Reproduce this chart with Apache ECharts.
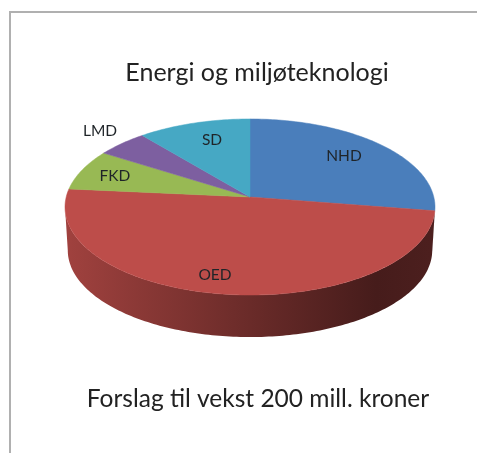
<!DOCTYPE html>
<html>
<head>
<meta charset="utf-8">
<style>html,body{margin:0;padding:0;background:#fff}#c{width:477px;height:453px}</style>
<script src="https://cdn.jsdelivr.net/npm/echarts@6/dist/echarts.min.js"></script>
</head>
<body>
<div id="c"></div>
<script>
// Data (shares of the 200 mill. kroner)
const categories = ['NHD', 'OED', 'FKD', 'LMD', 'SD'];
const values = [55, 98, 15, 10, 22];
const colors = ['#4a7ebb', '#bd4d4a', '#98b954', '#7d5fa0', '#46a8c4'];
const titleText = 'Energi og miljøteknologi';
const footerText = 'Forslag til vekst 200 mill. kroner';

// Presentation
const labelPos = { NHD: [344, 156], OED: [215, 275], FKD: [115, 176], LMD: [100, 131], SD: [212, 140] };
const cx = 250, cy = 197, a = 183.8, b = 86.9, k = 0.1136;
const depth = 43.5, baseScale = 0.985;
const total = values.reduce((s, v) => s + v, 0);

function shade(hex, f) {
  const n = parseInt(hex.slice(1), 16);
  const c = [n >> 16, (n >> 8) & 255, n & 255].map(x => Math.round(x * f));
  return 'rgb(' + c.join(',') + ')';
}
// Perspective projection of a point on the pie's circle; deg runs clockwise from 12 o'clock
function project(deg, scale, dy) {
  const t = deg * Math.PI / 180;
  const u = Math.sin(t), v = -Math.cos(t);
  const w = 1 - k * v;
  return [cx + scale * a * u / w, cy + dy + scale * b * v / w];
}
function arc(from, to, scale, dy) {
  const n = Math.max(2, Math.ceil(Math.abs(to - from)));
  const pts = [];
  for (let i = 0; i <= n; i++) pts.push(project(from + (to - from) * i / n, scale, dy));
  return pts;
}
// Visible part of the wall: the front of the pie, between the silhouette angles
const wallFrom = 90 + Math.asin(k) * 180 / Math.PI;
const wallTo = 270 - Math.asin(k) * 180 / Math.PI;

function renderSlice(params, api) {
  const i = params.dataIndex;
  let before = 0;
  for (let j = 0; j < i; j++) before += values[j];
  const start = before / total * 360;
  const end = start + api.value(0) / total * 360;
  const col = colors[i];
  const children = [];
  const f = Math.max(start, wallFrom), t = Math.min(end, wallTo);
  if (t > f) {
    const top = arc(f, t, 1, 0);
    const bottom = arc(t, f, baseScale, depth);
    children.push({
      type: 'polygon',
      shape: { points: top.concat(bottom) },
      style: {
        fill: {
          type: 'linear', global: true, x: 70, y: 0, x2: 430, y2: 0,
          colorStops: [
            { offset: 0, color: shade(col, 0.84) },
            { offset: 0.5, color: shade(col, 0.56) },
            { offset: 0.85, color: shade(col, 0.37) },
            { offset: 1, color: shade(col, 0.4) }
          ]
        }
      }
    });
  }
  children.push({
    type: 'polygon',
    shape: { points: [[cx, cy]].concat(arc(start, end, 1, 0)) },
    style: { fill: col, stroke: col, lineWidth: 0.5 }
  });
  const p = labelPos[categories[i]];
  children.push({
    type: 'text', z2: 10,
    style: {
      x: p[0], y: p[1], text: categories[i], fill: '#1f2428',
      font: '15.5px Lato, "Open Sans", sans-serif',
      align: 'center', verticalAlign: 'middle'
    }
  });
  return { type: 'group', children };
}

const chart = echarts.init(document.getElementById('c'), null, { renderer: 'canvas' });
chart.setOption({
  animation: false,
  backgroundColor: '#ffffff',
  title: [
    { text: titleText, left: 252, top: 55, textAlign: 'center',
      textStyle: { fontFamily: 'Lato', fontWeight: 'normal', fontSize: 25, color: '#222222' } },
    { text: footerText, left: 253, top: 382, textAlign: 'center',
      textStyle: { fontFamily: 'Lato', fontWeight: 'normal', fontSize: 24.5, color: '#222222' } }
  ],
  graphic: [{
    type: 'polyline', silent: true,
    shape: { points: [[10, 453], [10, 12], [477, 12]] },
    style: { fill: null, stroke: '#b0b0b0', lineWidth: 2 }
  }],
  series: [{
    type: 'custom',
    coordinateSystem: 'none',
    renderItem: renderSlice,
    data: categories.map((name, i) => ({ name, value: [values[i]] }))
  }]
});
</script>
</body>
</html>
